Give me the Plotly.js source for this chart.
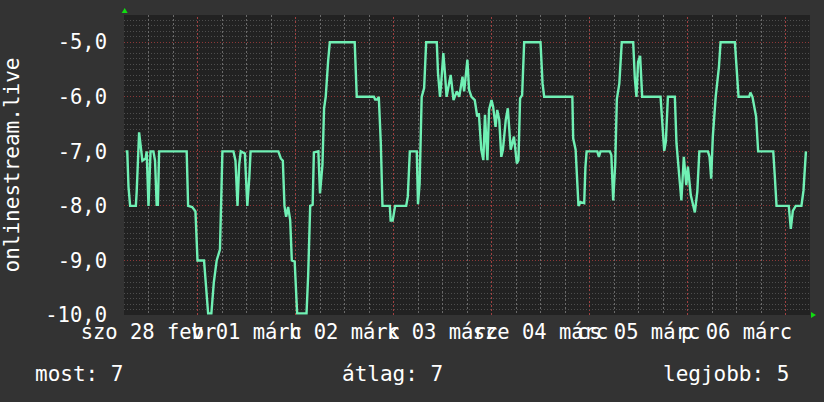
<!DOCTYPE html>
<html>
<head>
<meta charset="utf-8">
<script src="https://cdn.plot.ly/plotly-3.0.1.min.js"></script>
<style>html,body{margin:0;padding:0;background:#333333;}#chart{width:824px;height:402px;}</style>
</head>
<body>
<div id="chart"></div>
<script>
// ---- data ----
const seriesName = 'onlinestream.live';
const startTime = '2015-02-28 06:00:00';
const spanHours = 168;
// hours after start
const hours = [0.4,0.8,1.1,1.5,2.9,3.1,3.7,4.1,4.5,5.3,5.55,6.0,6.5,7.2,7.6,8.0,8.3,8.6,
  15.35,15.7,16.7,17.5,18.0,19.6,20.1,20.6,21.4,21.6,22.0,22.7,23.5,24.1,
  26.8,27.3,27.8,28.2,28.6,29.6,30.2,30.7,31.0,
  37.8,38.4,38.9,39.3,39.7,40.2,40.7,41.1,41.8,42.2,42.4,44.7,45.1,45.6,46.2,46.5,
  47.6,48.0,48.6,49.0,49.4,50.0,50.4,56.5,
  56.7,57.0,61.2,61.5,62.0,62.4,62.9,63.3,65.1,65.3,65.8,66.4,69.1,69.5,70.0,
  71.7,72.0,72.4,72.9,73.5,74.0,76.6,76.9,77.4,77.8,78.2,78.6,79.0,80.0,80.7,
  81.5,82.1,82.9,83.3,84.1,84.5,85.1,85.9,86.5,86.9,87.5,88.0,88.4,89.0,89.4,
  90.0,90.4,91.0,91.4,91.9,92.4,92.8,93.5,94.0,94.7,95.5,96.2,96.6,97.0,97.5,
  98.0,102.0,102.5,102.9,109.8,110.0,110.6,111.3,111.8,112.7,
  113.0,113.3,115.9,116.3,116.7,119.0,119.35,119.8,120.3,120.7,121.3,121.9,
  124.7,125.1,125.5,125.9,126.4,126.9,131.4,131.8,132.3,132.7,133.2,134.9,
  135.3,136.0,136.5,137.1,137.7,138.1,138.8,139.8,140.4,140.9,143.0,143.4,
  143.8,144.2,144.9,145.7,146.1,149.6,150.0,150.5,153.1,153.4,153.9,154.8,
  155.3,159.0,159.4,159.8,162.8,163.3,163.8,164.5,165.9,166.4,167.0];
const ranks = [-7.0,-7.0,-7.65,-8.0,-8.0,-7.75,-6.65,-6.87,-7.17,-7.13,-7.0,-8.0,-7.0,-7.0,-7.17,-7.98,-7.98,-7.0,
  -7.0,-8.0,-8.02,-8.1,-9.0,-9.0,-9.5,-9.97,-9.97,-9.75,-9.4,-9.0,-8.8,-7.0,
  -7.0,-7.17,-8.0,-7.25,-7.0,-7.04,-8.0,-7.46,-7.0,
  -7.0,-7.13,-7.17,-8.0,-8.2,-8.02,-8.26,-9.0,-9.02,-9.77,-9.97,-9.97,-9.27,-8.0,-7.98,-7.02,
  -7.0,-7.77,-7.25,-6.21,-6.0,-5.33,-5.0,-5.0,
  -5.49,-6.0,-6.0,-6.05,-6.05,-6.0,-6.86,-8.0,-8.0,-8.27,-8.27,-8.0,-8.0,-7.83,-7.0,
  -7.0,-7.97,-7.59,-6.0,-5.84,-5.0,-5.0,-5.57,-6.0,-5.63,-5.2,-5.57,-6.0,-5.6,-6.06,
  -5.9,-6.0,-5.63,-5.9,-5.32,-5.87,-6.0,-6.06,-6.36,-6.3,-6.97,-7.16,-6.33,-7.16,-6.24,
  -6.06,-6.18,-6.55,-6.24,-6.42,-7.1,-6.97,-6.42,-6.21,-6.97,-6.73,-7.22,-7.16,-6.03,-5.97,
  -5.0,-5.0,-5.75,-6.0,-6.0,-6.76,-6.97,-8.0,-7.93,-7.95,
  -7.29,-7.0,-7.0,-7.1,-7.0,-7.0,-7.07,-7.9,-7.23,-6.04,-5.76,-5.0,
  -5.0,-5.66,-6.0,-5.36,-5.25,-6.0,-6.0,-6.55,-6.99,-6.82,-6.0,-6.0,
  -6.85,-7.47,-7.9,-7.1,-7.62,-7.28,-7.8,-8.12,-7.74,-7.0,-7.0,-7.1,
  -7.5,-6.73,-6.0,-5.45,-5.0,-5.0,-5.39,-6.0,-6.0,-5.92,-6.0,-6.36,
  -7.0,-7.0,-7.48,-8.0,-8.0,-8.42,-8.09,-8.0,-8.0,-7.72,-7.0];
const dayLabels = ['szo 28 febr','v 01 márc','h 02 márc','k 03 márc','sze 04 márc','cs 05 márc','p 06 márc'];
const dayNoons = ['2015-02-28 12:00','2015-03-01 12:00','2015-03-02 12:00','2015-03-03 12:00','2015-03-04 12:00','2015-03-05 12:00','2015-03-06 12:00'];
const dayStarts = ['2015-03-01','2015-03-02','2015-03-03','2015-03-04','2015-03-05','2015-03-06','2015-03-07'];
const yTickVals = [-5,-6,-7,-8,-9,-10];
const yTickText = ['-5,0','-6,0','-7,0','-8,0','-9,0','-10,0'];
const statLabels = ['most','átlag','legjobb'];
const statValues = [7,7,5];

// ---- helpers ----
function toStamp(h){
  const t0 = Date.parse(startTime.replace(' ','T')+'Z');
  return new Date(t0 + h*3600000).toISOString().replace('T',' ').slice(0,19);
}
const xs = hours.map(toStamp);
const xEnd = toStamp(spanHours);
// 6-hour grid positions that are not midnights
const sixHourGrid = [];
for (let h = 0; h <= spanHours; h += 6) {
  const s = toStamp(h);
  if (s.slice(11,13) !== '00') sixHourGrid.push(s);
}

const L=124, R=810, T=15, B=315, W=R-L, H=B-T;
const px = x => (x-L)/W;
const py = y => (B-y)/H;
const FONT = 'DejaVu Sans Mono';
const DOT = '1px,2px';
const VDOT = '2px,2px';
const RED = '#8c3838';
const VRED = '#a04040';
const VGRAY = '#6a6a6a';

const data = [{
  type:'scatter', mode:'lines', x: xs, y: ranks, name: seriesName,
  line:{color:'#70f0b4', width:2.4}, hoverinfo:'skip'
},{
  type:'scatter', mode:'lines', x: [], y: [], xaxis:'x2', showlegend:false, hoverinfo:'skip'
}];

// red day separators drawn between grid and trace, from dayStarts
const dayLines = dayStarts.map(d => ({
  type:'line', xref:'x', yref:'paper', x0:d, x1:d, y0:0, y1:1, layer:'between',
  line:{color:VRED, width:1, dash:VDOT}
}));

const layout = {
  width:824, height:402,
  margin:{l:L, r:824-R, t:T, b:402-B, pad:0},
  paper_bgcolor:'#333333', plot_bgcolor:'#222222',
  showlegend:false,
  font:{family:FONT, color:'#ffffff', size:20},
  xaxis:{
    type:'date', range:[startTime, xEnd],
    tickmode:'array', tickvals: sixHourGrid,
    showticklabels:false, ticks:'',
    showgrid:true, gridcolor:VGRAY, griddash:VDOT, gridwidth:1,
    zeroline:false, showline:false, fixedrange:true
  },
  xaxis2:{
    type:'date', overlaying:'x', matches:'x', anchor:'y', side:'bottom',
    tickmode:'array', tickvals: dayNoons, ticktext: dayLabels,
    tickangle:0, showgrid:false, ticks:'', zeroline:false,
    tickfont:{family:FONT, size:20.5, color:'#ffffff'},
    ticklabelstandoff:2
  },
  yaxis:{
    range:[-10,-4.5], tickmode:'array', tickvals:yTickVals, ticktext:yTickText,
    showgrid:true, gridcolor:RED, griddash:DOT, gridwidth:1,
    minor:{tickmode:'linear', tick0:-10, dtick:0.1, showgrid:true, gridcolor:'#4e4e4e', griddash:DOT, gridwidth:1},
    zeroline:false, showline:false, ticks:'',
    tickfont:{family:FONT, size:20.5, color:'#ffffff'},
    ticklabelstandoff:16,
    title:{text:seriesName, font:{family:FONT, size:21, color:'#ffffff'}, standoff:22},
    fixedrange:true
  },
  shapes: dayLines.concat([
    {type:'path', xref:'paper', yref:'paper', xsizemode:'pixel', ysizemode:'pixel',
     xanchor:0.001, yanchor:1, path:'M-3,2 L3,2 L0,7 Z', fillcolor:'#11dd11', line:{width:0}},
    {type:'path', xref:'paper', yref:'paper', xsizemode:'pixel', ysizemode:'pixel',
     xanchor:1, yanchor:0, path:'M1,-3 L1,3 L6,0 Z', fillcolor:'#11dd11', line:{width:0}}
  ]),
  annotations:[
    {xref:'paper', yref:'paper', x:px(33), y:py(374), xanchor:'left', yanchor:'middle',
     text: statLabels[0]+': '+statValues[0], showarrow:false, font:{family:FONT,size:21,color:'#ffffff'}},
    {xref:'paper', yref:'paper', x:px(392), y:py(374), xanchor:'center', yanchor:'middle',
     text: statLabels[1]+': '+statValues[1], showarrow:false, font:{family:FONT,size:21,color:'#ffffff'}},
    {xref:'paper', yref:'paper', x:px(791), y:py(374), xanchor:'right', yanchor:'middle',
     text: statLabels[2]+': '+statValues[2], showarrow:false, font:{family:FONT,size:21,color:'#ffffff'}}
  ]
};

Plotly.newPlot('chart', data, layout, {staticPlot:true, displayModeBar:false});
</script>
</body>
</html>
